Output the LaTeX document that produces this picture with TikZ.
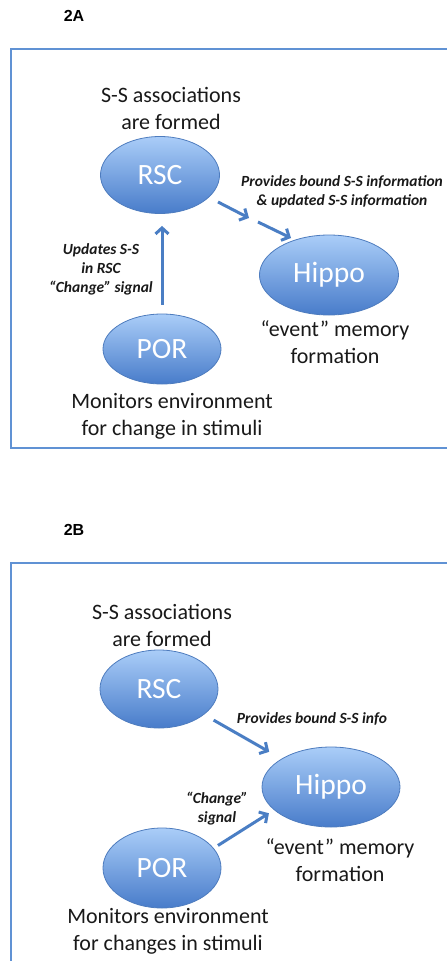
\documentclass[tikz,border=0pt]{standalone}
\usepackage{fontspec}
\setmainfont{Carlito}
\newfontfamily\panelfont{Liberation Sans}
\usetikzlibrary{shapes.geometric,arrows.meta}

\definecolor{frameblue}{RGB}{96,146,212}
\definecolor{arrowblue}{RGB}{74,126,196}
\definecolor{balltop}{RGB}{170,205,248}
\definecolor{ballbot}{RGB}{72,124,202}
\definecolor{ballrim}{RGB}{78,124,190}

\tikzset{
  framebox/.style={draw=frameblue, line width=2pt},
  region/.style={ellipse, draw=ballrim, line width=0.8pt, inner sep=0pt,
    top color=balltop, bottom color=ballbot, text=white,
    font=\fontsize{29.5}{32}\selectfont},
  caption/.style={align=center, text=black!90,
    font=\fontsize{22}{27}\selectfont},
  flowlabel/.style={align=center, text=black!90,
    font=\fontsize{15.5}{19}\selectfont\bfseries\itshape},
  panel/.style={font=\panelfont\bfseries\fontsize{16}{18}\selectfont},
  arr/.style={draw=arrowblue, line width=3pt,
    -{Straight Barb[length=6pt, width=13pt, line width=3pt]}},
}

\begin{document}
\begin{tikzpicture}[x=1pt, y=-1pt]
\useasboundingbox (0,0) rectangle (447,961);

% ---------- panel 2A ----------
\node[panel] (labA) at (74,16) {2A};
\draw[framebox] (11,49) rectangle (470,448);

\node[region, minimum width=119pt, minimum height=77pt] (rscA) at (160,175) {RSC};
\node[region, minimum width=139pt, minimum height=80pt] (hipA) at (329,275) {Hippo};
\node[region, minimum width=118pt, minimum height=70pt] (porA) at (162,349) {POR};

\node[caption] (capRscA) at (171,108) {S-S associations\\are formed};
\node[caption] (capHipA) at (335,342) {“event” memory\\formation};
\node[caption] (capPorA) at (172,416) {Monitors environment\\for change in stimuli};

\draw[arr, shorten <=9pt, shorten >=12pt] (porA.north) -- (porA.north |- rscA.south);
\node[flowlabel] (lblPorA) at (101,269) {Updates S-S\\in RSC\\“Change” signal};

\coordinate (a1) at (218,202);
\coordinate (a2) at (249,218);
\coordinate (a3) at (258,222);
\coordinate (a4) at (291,238);
\draw[arr] (a1) -- (a2);
\draw[arr] (a3) -- (a4);
\node[flowlabel] (lblRscA) at (342,192) {Provides bound S-S information\\\& updated S-S information};

% ---------- panel 2B ----------
\node[panel] (labB) at (74,530) {2B};
\draw[framebox] (11,563) rectangle (470,985);

\node[region, minimum width=118pt, minimum height=78pt] (rscB) at (159,689) {RSC};
\node[region, minimum width=138pt, minimum height=80pt] (hipB) at (331,787) {Hippo};
\node[region, minimum width=118pt, minimum height=80pt] (porB) at (162,868) {POR};

\node[caption] (capRscB) at (162,625) {S-S associations\\are formed};
\node[caption] (capHipB) at (340,860) {“event” memory\\formation};
\node[caption] (capPorB) at (168,931) {Monitors environment\\for changes in stimuli};

\draw[arr, shorten <=11pt, shorten >=14pt] (rscB) -- (hipB);
\node[flowlabel] (lblRscB) at (312,719) {Provides bound S-S info};

\draw[arr, shorten <=5pt, shorten >=6pt] (porB.21) -- (hipB.202);
\node[flowlabel] (lblPorB) at (217,809) {“Change”\\signal};
\end{tikzpicture}
\end{document}
